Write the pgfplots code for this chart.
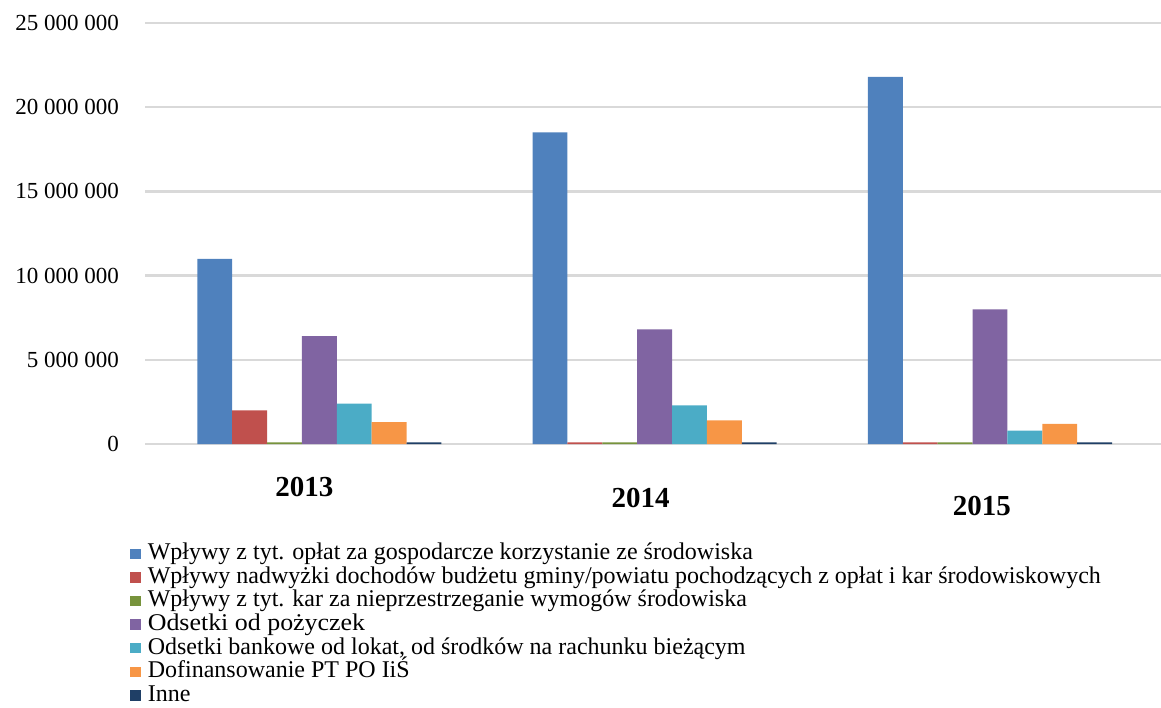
\documentclass[border=0pt]{standalone}
\usepackage{pgfplots}
\pgfplotsset{compat=1.18}
\usepackage{fontspec}
\setmainfont{Liberation Serif}
\definecolor{cA}{HTML}{4F81BD}
\definecolor{cB}{HTML}{C0504D}
\definecolor{cC}{HTML}{77933C}
\definecolor{cD}{HTML}{8064A2}
\definecolor{cE}{HTML}{4BACC6}
\definecolor{cF}{HTML}{F79646}
\definecolor{cG}{HTML}{1F3F66}
\definecolor{gridc}{HTML}{D9D9D9}
\begin{document}
\begin{tikzpicture}
\path[use as bounding box] (0,0) rectangle (580.5pt,-353.5pt);
\begin{axis}[
  at={(72.5pt,-222pt)}, anchor=south west,
  scale only axis, width=508pt, height=210.5pt,
  xmin=-0.52, xmax=2.51, ymin=0, ymax=25000000,
  axis line style={draw=none},
  ybar=0pt, bar width=0.104,
  ymajorgrids, grid style={gridc, line width=1.2pt},
  ytick={0,5000000,10000000,15000000,20000000,25000000},
  yticklabels={0,5 000 000,10 000 000,15 000 000,20 000 000,25 000 000},
  scaled y ticks=false,
  yticklabel style={font=\fontsize{11.5}{13}\selectfont, xshift=-9.5pt},
  xtick={0,1,2},
  xticklabels={\hspace*{-15pt}2013,\raisebox{-5.5pt}[\height]{\hspace*{-14pt}2014},\raisebox{-9.5pt}[\height]{\hspace*{-8pt}2015}},
  xticklabel style={font=\fontsize{14.5}{16}\selectfont\bfseries, yshift=-13pt},
  major tick length=0pt,
  legend style={at={(rel axis cs:0,0)}, anchor=north west, xshift=-7.5pt, yshift=-48.8pt,
    draw=none, fill=none, inner sep=0pt, row sep=0pt,
    font=\fontsize{12}{12}\selectfont,
    nodes={inner sep=0pt, text height=8.8pt, text depth=3pt}},
  legend cell align=left,
  legend image code/.code={\fill[#1] (0pt,-2.6pt) rectangle (5.2pt,2.6pt);},
  legend style={/tikz/every even column/.append style={column sep=0pt}},
]
\addplot[fill=cA, draw=none] coordinates {(0,11000000) (1,18500000) (2,21800000)};
\addplot[fill=cB, draw=none] coordinates {(0,2000000) (1,100000) (2,100000)};
\addplot[fill=cC, draw=none] coordinates {(0,100000) (1,100000) (2,100000)};
\addplot[fill=cD, draw=none] coordinates {(0,6400000) (1,6800000) (2,8000000)};
\addplot[fill=cE, draw=none] coordinates {(0,2400000) (1,2300000) (2,800000)};
\addplot[fill=cF, draw=none] coordinates {(0,1300000) (1,1400000) (2,1200000)};
\addplot[fill=cG, draw=none] coordinates {(0,100000) (1,100000) (2,100000)};
\legend{{\hspace{3.5pt}Wpływy z tyt. opłat za gospodarcze korzystanie ze środowiska},
{\hspace{3.5pt}Wpływy nadwyżki dochodów budżetu gminy/powiatu pochodzących z opłat i kar środowiskowych},
{\hspace{3.5pt}Wpływy z tyt. kar za nieprzestrzeganie wymogów środowiska},
{\hspace{3.5pt}\scalebox{1.08}[1]{Odsetki od pożyczek}},
{\hspace{3.5pt}Odsetki bankowe od lokat, od środków na rachunku bieżącym},
{\hspace{3.5pt}Dofinansowanie PT PO IiŚ},
{\hspace{3.5pt}Inne}}
\end{axis}
\end{tikzpicture}
\end{document}
